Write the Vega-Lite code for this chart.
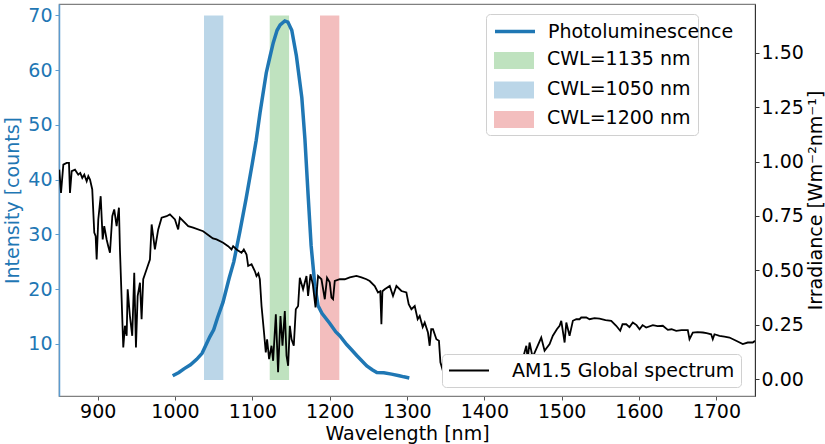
{
  "$schema": "https://vega.github.io/schema/vega-lite/v6.json",
  "width": 696,
  "height": 392,
  "autosize": {"type": "none"},
  "padding": {"left": 59, "top": 4, "right": 70, "bottom": 48},
  "background": "white",
  "config": {
    "font": "DejaVu Sans",
    "view": {"stroke": "#808080", "strokeWidth": 1.2},
    "axis": {"grid": false, "labelFontSize": 19, "titleFontSize": 19, "titleFontWeight": "normal", "labelFont": "DejaVu Sans", "titleFont": "DejaVu Sans", "labelColor": "black", "titleColor": "black", "tickSize": 4, "labelPadding": 2},
    "legend": {"labelFontSize": 19, "labelFont": "DejaVu Sans", "labelColor": "black", "labelLimit": 400, "titleLimit": 400}
  },
  "datasets": {
    "bands": [
      {"series": "CWL=1050 nm", "start": 1037.5, "end": 1062.5, "low": 3.4, "high": 70},
      {"series": "CWL=1135 nm", "start": 1122.5, "end": 1147.5, "low": 3.4, "high": 70},
      {"series": "CWL=1200 nm", "start": 1187.5, "end": 1212.5, "low": 3.4, "high": 70}
    ],
    "pl": [
      {"wavelength": 997, "counts": 4.2}, {"wavelength": 1005, "counts": 4.8}, {"wavelength": 1012, "counts": 5.5},
      {"wavelength": 1020, "counts": 6.2}, {"wavelength": 1028, "counts": 7.2}, {"wavelength": 1035, "counts": 8.3},
      {"wavelength": 1040, "counts": 9.8}, {"wavelength": 1045, "counts": 11.3}, {"wavelength": 1050, "counts": 12.6},
      {"wavelength": 1055, "counts": 14.8}, {"wavelength": 1062, "counts": 17.6}, {"wavelength": 1070, "counts": 22.0},
      {"wavelength": 1076, "counts": 25.0}, {"wavelength": 1084, "counts": 30.6}, {"wavelength": 1092, "counts": 36.6},
      {"wavelength": 1100, "counts": 43.0}, {"wavelength": 1105, "counts": 47.2}, {"wavelength": 1110, "counts": 52.3},
      {"wavelength": 1118, "counts": 59.5}, {"wavelength": 1123, "counts": 62.6}, {"wavelength": 1127, "counts": 65.0},
      {"wavelength": 1132, "counts": 67.3}, {"wavelength": 1136, "counts": 68.3}, {"wavelength": 1142, "counts": 69.0},
      {"wavelength": 1146, "counts": 68.8}, {"wavelength": 1151, "counts": 67.3}, {"wavelength": 1157, "counts": 62.6},
      {"wavelength": 1164, "counts": 55.0}, {"wavelength": 1168, "counts": 47.4}, {"wavelength": 1172, "counts": 37.5},
      {"wavelength": 1176, "counts": 28.0}, {"wavelength": 1181, "counts": 20.5}, {"wavelength": 1185, "counts": 17.0},
      {"wavelength": 1190, "counts": 15.6}, {"wavelength": 1200, "counts": 13.8}, {"wavelength": 1208, "counts": 12.2},
      {"wavelength": 1213, "counts": 11.5}, {"wavelength": 1222, "counts": 9.9}, {"wavelength": 1228, "counts": 9.0},
      {"wavelength": 1235, "counts": 7.9}, {"wavelength": 1248, "counts": 6.0}, {"wavelength": 1255, "counts": 5.3},
      {"wavelength": 1261, "counts": 4.8}, {"wavelength": 1270, "counts": 4.75}, {"wavelength": 1280, "counts": 4.5},
      {"wavelength": 1290, "counts": 4.2}, {"wavelength": 1296, "counts": 4.0}, {"wavelength": 1303, "counts": 3.8}
    ],
    "am": [
      {"wavelength": 850.4, "irradiance": 0.963}, {"wavelength": 852.6, "irradiance": 0.856}, {"wavelength": 855.6, "irradiance": 0.986},
      {"wavelength": 859.9, "irradiance": 0.994}, {"wavelength": 862.9, "irradiance": 0.994}, {"wavelength": 864.2, "irradiance": 0.856},
      {"wavelength": 866.4, "irradiance": 0.956}, {"wavelength": 870.7, "irradiance": 0.963}, {"wavelength": 874.9, "irradiance": 0.940},
      {"wavelength": 877.5, "irradiance": 0.948}, {"wavelength": 880.1, "irradiance": 0.925}, {"wavelength": 882.7, "irradiance": 0.940},
      {"wavelength": 885.8, "irradiance": 0.910}, {"wavelength": 887.9, "irradiance": 0.933}, {"wavelength": 890.1, "irradiance": 0.917},
      {"wavelength": 893.0, "irradiance": 0.872}, {"wavelength": 895.6, "irradiance": 0.674}, {"wavelength": 897.4, "irradiance": 0.657},
      {"wavelength": 898.7, "irradiance": 0.550}, {"wavelength": 900.8, "irradiance": 0.734}, {"wavelength": 903.9, "irradiance": 0.841},
      {"wavelength": 906.5, "irradiance": 0.642}, {"wavelength": 908.5, "irradiance": 0.703}, {"wavelength": 911.6, "irradiance": 0.642},
      {"wavelength": 913.7, "irradiance": 0.611}, {"wavelength": 915.9, "irradiance": 0.581}, {"wavelength": 918.9, "irradiance": 0.749},
      {"wavelength": 921.4, "irradiance": 0.780}, {"wavelength": 924.5, "irradiance": 0.703}, {"wavelength": 927.5, "irradiance": 0.788},
      {"wavelength": 928.8, "irradiance": 0.596}, {"wavelength": 931.0, "irradiance": 0.367}, {"wavelength": 933.1, "irradiance": 0.145},
      {"wavelength": 935.3, "irradiance": 0.245}, {"wavelength": 937.5, "irradiance": 0.199}, {"wavelength": 938.8, "irradiance": 0.413},
      {"wavelength": 941.7, "irradiance": 0.290}, {"wavelength": 944.7, "irradiance": 0.199}, {"wavelength": 947.3, "irradiance": 0.489},
      {"wavelength": 949.5, "irradiance": 0.145}, {"wavelength": 951.7, "irradiance": 0.382}, {"wavelength": 954.7, "irradiance": 0.443},
      {"wavelength": 956.8, "irradiance": 0.275}, {"wavelength": 958.9, "irradiance": 0.459}, {"wavelength": 963.3, "irradiance": 0.505},
      {"wavelength": 967.6, "irradiance": 0.550}, {"wavelength": 969.8, "irradiance": 0.711}, {"wavelength": 971.8, "irradiance": 0.657},
      {"wavelength": 974.0, "irradiance": 0.596}, {"wavelength": 978.3, "irradiance": 0.688}, {"wavelength": 982.7, "irradiance": 0.742},
      {"wavelength": 989.2, "irradiance": 0.749}, {"wavelength": 993.4, "irradiance": 0.757}, {"wavelength": 999.9, "irradiance": 0.734},
      {"wavelength": 1004.1, "irradiance": 0.688}, {"wavelength": 1006.3, "irradiance": 0.742}, {"wavelength": 1017.1, "irradiance": 0.703},
      {"wavelength": 1023.5, "irradiance": 0.696}, {"wavelength": 1036.4, "irradiance": 0.680}, {"wavelength": 1045.1, "irradiance": 0.657},
      {"wavelength": 1049.0, "irradiance": 0.647}, {"wavelength": 1053.7, "irradiance": 0.642}, {"wavelength": 1062.3, "irradiance": 0.627},
      {"wavelength": 1068.7, "irradiance": 0.611}, {"wavelength": 1073.1, "irradiance": 0.596}, {"wavelength": 1075.2, "irradiance": 0.611},
      {"wavelength": 1079.6, "irradiance": 0.596}, {"wavelength": 1086.0, "irradiance": 0.581}, {"wavelength": 1089.0, "irradiance": 0.596},
      {"wavelength": 1092.5, "irradiance": 0.573}, {"wavelength": 1094.6, "irradiance": 0.520}, {"wavelength": 1099.0, "irradiance": 0.528},
      {"wavelength": 1103.2, "irradiance": 0.497}, {"wavelength": 1105.4, "irradiance": 0.474}, {"wavelength": 1107.8, "irradiance": 0.486},
      {"wavelength": 1109.7, "irradiance": 0.459}, {"wavelength": 1111.9, "irradiance": 0.336}, {"wavelength": 1114.9, "irradiance": 0.222},
      {"wavelength": 1117.4, "irradiance": 0.122}, {"wavelength": 1119.1, "irradiance": 0.183}, {"wavelength": 1121.7, "irradiance": 0.092},
      {"wavelength": 1124.8, "irradiance": 0.153}, {"wavelength": 1126.9, "irradiance": 0.084}, {"wavelength": 1130.4, "irradiance": 0.298},
      {"wavelength": 1133.3, "irradiance": 0.031}, {"wavelength": 1136.4, "irradiance": 0.290}, {"wavelength": 1139.0, "irradiance": 0.153},
      {"wavelength": 1142.0, "irradiance": 0.313}, {"wavelength": 1144.2, "irradiance": 0.107}, {"wavelength": 1146.3, "irradiance": 0.061},
      {"wavelength": 1148.5, "irradiance": 0.245}, {"wavelength": 1150.7, "irradiance": 0.183}, {"wavelength": 1153.6, "irradiance": 0.153},
      {"wavelength": 1156.2, "irradiance": 0.321}, {"wavelength": 1159.2, "irradiance": 0.336}, {"wavelength": 1161.4, "irradiance": 0.466},
      {"wavelength": 1165.6, "irradiance": 0.413}, {"wavelength": 1170.0, "irradiance": 0.474}, {"wavelength": 1172.1, "irradiance": 0.382},
      {"wavelength": 1175.2, "irradiance": 0.482}, {"wavelength": 1178.2, "irradiance": 0.436}, {"wavelength": 1181.7, "irradiance": 0.329},
      {"wavelength": 1185.0, "irradiance": 0.474}, {"wavelength": 1189.4, "irradiance": 0.459}, {"wavelength": 1193.7, "irradiance": 0.367},
      {"wavelength": 1196.6, "irradiance": 0.466}, {"wavelength": 1200.1, "irradiance": 0.445}, {"wavelength": 1202.3, "irradiance": 0.375},
      {"wavelength": 1204.4, "irradiance": 0.367}, {"wavelength": 1206.6, "irradiance": 0.451}, {"wavelength": 1213.1, "irradiance": 0.459},
      {"wavelength": 1219.5, "irradiance": 0.459}, {"wavelength": 1226.0, "irradiance": 0.468}, {"wavelength": 1234.6, "irradiance": 0.474},
      {"wavelength": 1241.1, "irradiance": 0.468}, {"wavelength": 1247.6, "irradiance": 0.459}, {"wavelength": 1251.8, "irradiance": 0.451},
      {"wavelength": 1258.3, "irradiance": 0.428}, {"wavelength": 1262.5, "irradiance": 0.398}, {"wavelength": 1265.4, "irradiance": 0.404},
      {"wavelength": 1266.9, "irradiance": 0.252}, {"wavelength": 1268.2, "irradiance": 0.404}, {"wavelength": 1271.2, "irradiance": 0.413},
      {"wavelength": 1277.7, "irradiance": 0.428}, {"wavelength": 1281.9, "irradiance": 0.382}, {"wavelength": 1286.3, "irradiance": 0.428},
      {"wavelength": 1292.8, "irradiance": 0.405}, {"wavelength": 1299.2, "irradiance": 0.398}, {"wavelength": 1302.2, "irradiance": 0.344},
      {"wavelength": 1305.7, "irradiance": 0.321}, {"wavelength": 1310.0, "irradiance": 0.336}, {"wavelength": 1313.8, "irradiance": 0.275},
      {"wavelength": 1316.4, "irradiance": 0.290}, {"wavelength": 1320.3, "irradiance": 0.239}, {"wavelength": 1322.9, "irradiance": 0.260},
      {"wavelength": 1327.1, "irradiance": 0.214}, {"wavelength": 1329.3, "irradiance": 0.153}, {"wavelength": 1331.3, "irradiance": 0.229},
      {"wavelength": 1333.6, "irradiance": 0.229}, {"wavelength": 1338.0, "irradiance": 0.183}, {"wavelength": 1341.3, "irradiance": 0.176},
      {"wavelength": 1343.2, "irradiance": 0.077}, {"wavelength": 1348.7, "irradiance": 0.010}, {"wavelength": 1368, "irradiance": 0.004},
      {"wavelength": 1394, "irradiance": 0.002}, {"wavelength": 1420, "irradiance": 0.004}, {"wavelength": 1439, "irradiance": 0.020},
      {"wavelength": 1448, "irradiance": 0.070}, {"wavelength": 1454.3, "irradiance": 0.153}, {"wavelength": 1456.0, "irradiance": 0.092},
      {"wavelength": 1458.5, "irradiance": 0.168}, {"wavelength": 1462.4, "irradiance": 0.100}, {"wavelength": 1473.6, "irradiance": 0.191},
      {"wavelength": 1477.9, "irradiance": 0.130}, {"wavelength": 1484.4, "irradiance": 0.161}, {"wavelength": 1488.6, "irradiance": 0.199},
      {"wavelength": 1493.8, "irradiance": 0.229}, {"wavelength": 1497.3, "irradiance": 0.245}, {"wavelength": 1499.5, "irradiance": 0.268},
      {"wavelength": 1503.8, "irradiance": 0.168}, {"wavelength": 1506.0, "irradiance": 0.260}, {"wavelength": 1510.2, "irradiance": 0.199},
      {"wavelength": 1514.5, "irradiance": 0.268}, {"wavelength": 1518.9, "irradiance": 0.275}, {"wavelength": 1523.1, "irradiance": 0.275},
      {"wavelength": 1525.3, "irradiance": 0.283}, {"wavelength": 1531.8, "irradiance": 0.283}, {"wavelength": 1536.1, "irradiance": 0.275},
      {"wavelength": 1542.5, "irradiance": 0.280}, {"wavelength": 1549.0, "irradiance": 0.278}, {"wavelength": 1556.7, "irradiance": 0.271},
      {"wavelength": 1564.1, "irradiance": 0.268}, {"wavelength": 1570.5, "irradiance": 0.245}, {"wavelength": 1575.7, "irradiance": 0.222},
      {"wavelength": 1578.7, "irradiance": 0.252}, {"wavelength": 1583.5, "irradiance": 0.252}, {"wavelength": 1587.7, "irradiance": 0.239},
      {"wavelength": 1592.0, "irradiance": 0.260}, {"wavelength": 1596.8, "irradiance": 0.248}, {"wavelength": 1600.7, "irradiance": 0.229},
      {"wavelength": 1604.6, "irradiance": 0.248}, {"wavelength": 1609.3, "irradiance": 0.237}, {"wavelength": 1617.9, "irradiance": 0.248},
      {"wavelength": 1624.0, "irradiance": 0.243}, {"wavelength": 1630.8, "irradiance": 0.245}, {"wavelength": 1637.3, "irradiance": 0.226},
      {"wavelength": 1642.1, "irradiance": 0.229}, {"wavelength": 1648.1, "irradiance": 0.222}, {"wavelength": 1655.0, "irradiance": 0.225},
      {"wavelength": 1663.1, "irradiance": 0.225}, {"wavelength": 1665.3, "irradiance": 0.183}, {"wavelength": 1669.6, "irradiance": 0.214},
      {"wavelength": 1675.7, "irradiance": 0.216}, {"wavelength": 1682.6, "irradiance": 0.214}, {"wavelength": 1687.4, "irradiance": 0.211},
      {"wavelength": 1693.3, "irradiance": 0.206}, {"wavelength": 1695.4, "irradiance": 0.183}, {"wavelength": 1697.6, "irradiance": 0.206},
      {"wavelength": 1704.1, "irradiance": 0.199}, {"wavelength": 1710.5, "irradiance": 0.195}, {"wavelength": 1717.0, "irradiance": 0.191},
      {"wavelength": 1725.6, "irradiance": 0.176}, {"wavelength": 1734.2, "irradiance": 0.161}, {"wavelength": 1740.6, "irradiance": 0.168},
      {"wavelength": 1747.1, "irradiance": 0.168}, {"wavelength": 1749.3, "irradiance": 0.174}, {"wavelength": 1752, "irradiance": 0.172}
    ]
  },
  "layer": [
    {
      "data": {"name": "bands"},
      "mark": {"type": "rect", "opacity": 0.3, "clip": true},
      "encoding": {
        "x": {"field": "start", "type": "quantitative", "scale": {"domain": [850, 1750], "nice": false, "zero": false},
              "axis": {"title": "Wavelength [nm]", "format": "d", "values": [900, 1000, 1100, 1200, 1300, 1400, 1500, 1600, 1700], "domainColor": "#808080", "tickColor": "#555", "titlePadding": 3}},
        "x2": {"field": "end"},
        "y": {"field": "low", "type": "quantitative", "scale": {"domain": [0.5, 72.1], "nice": false, "zero": false},
              "axis": {"orient": "left", "title": "Intensity [counts]", "values": [10, 20, 30, 40, 50, 60, 70], "labelColor": "#1f77b4", "titleColor": "#1f77b4", "domainColor": "#5b9bd0", "domainWidth": 1.5, "tickColor": "#5b9bd0", "labelPadding": 3, "titlePadding": 5}},
        "y2": {"field": "high"},
        "color": {
          "field": "series", "type": "nominal",
          "scale": {"domain": ["CWL=1135 nm", "CWL=1050 nm", "CWL=1200 nm"], "range": ["#2ca02c", "#1f77b4", "#d62728"]},
          "legend": {
            "title": "\u00a0\u00a0\u00a0\u00a0\u00a0\u00a0\u00a0\u00a0\u00a0\u00a0\u00a0\u00a0\u00a0\u00a0\u00a0\u00a0\u00a0\u00a0\u00a0\u00a0\u00a0\u00a0\u00a0\u00a0\u00a0\u00a0\u00a0\u00a0\u00a0\u00a0\u00a0\u00a0\u00a0\u00a0\u00a0\u00a0\u00a0\u00a0\u00a0\u00a0\u00a0",
            "titleFontSize": 19, "titlePadding": 12,
            "orient": "none", "legendX": 427, "legendY": 10,
            "fillColor": "white", "strokeColor": "#d0d0d0", "cornerRadius": 4, "padding": 7,
            "symbolType": "square", "symbolSize": 1600, "clipHeight": 14, "rowPadding": 10.5, "labelOffset": 12
          }
        }
      }
    },
    {
      "data": {"name": "pl"},
      "mark": {"type": "line", "strokeWidth": 3.5, "clip": true},
      "encoding": {
        "x": {"field": "wavelength", "type": "quantitative"},
        "y": {"field": "counts", "type": "quantitative", "scale": {"domain": [0.5, 72.1], "nice": false, "zero": false}, "axis": null},
        "color": {
          "datum": "Photoluminescence",
          "scale": {"domain": ["Photoluminescence"], "range": ["#1f77b4"]},
          "legend": {
            "title": null, "orient": "none", "legendX": 434, "legendY": 18, "padding": 0,
            "symbolType": "stroke", "symbolSize": 1600, "symbolStrokeWidth": 3.5, "clipHeight": 19, "labelOffset": 11
          }
        }
      }
    },
    {
      "data": {"name": "am"},
      "mark": {"type": "line", "strokeWidth": 1.8, "clip": true},
      "encoding": {
        "x": {"field": "wavelength", "type": "quantitative"},
        "y": {"field": "irradiance", "type": "quantitative", "scale": {"domain": [-0.078, 1.725], "nice": false, "zero": false},
              "axis": {"orient": "right", "title": "Irradiance [Wm⁻²nm⁻¹]", "values": [0, 0.25, 0.5, 0.75, 1.0, 1.25, 1.5], "format": ".2f",
                       "domainColor": "#333", "tickColor": "#333", "labelPadding": 2, "titleAngle": 270, "titleBaseline": "top", "titlePadding": 3}},
        "color": {
          "datum": "AM1.5 Global spectrum",
          "scale": {"domain": ["AM1.5 Global spectrum"], "range": ["black"]},
          "legend": {
            "title": null, "orient": "none", "legendX": 383, "legendY": 350,
            "fillColor": "white", "strokeColor": "#d0d0d0", "cornerRadius": 4, "padding": 6,
            "symbolType": "stroke", "symbolSize": 1600, "symbolStrokeWidth": 2, "clipHeight": 21, "labelOffset": 22
          }
        }
      }
    }
  ],
  "resolve": {"scale": {"y": "independent", "color": "independent"}, "legend": {"color": "independent"}}
}
